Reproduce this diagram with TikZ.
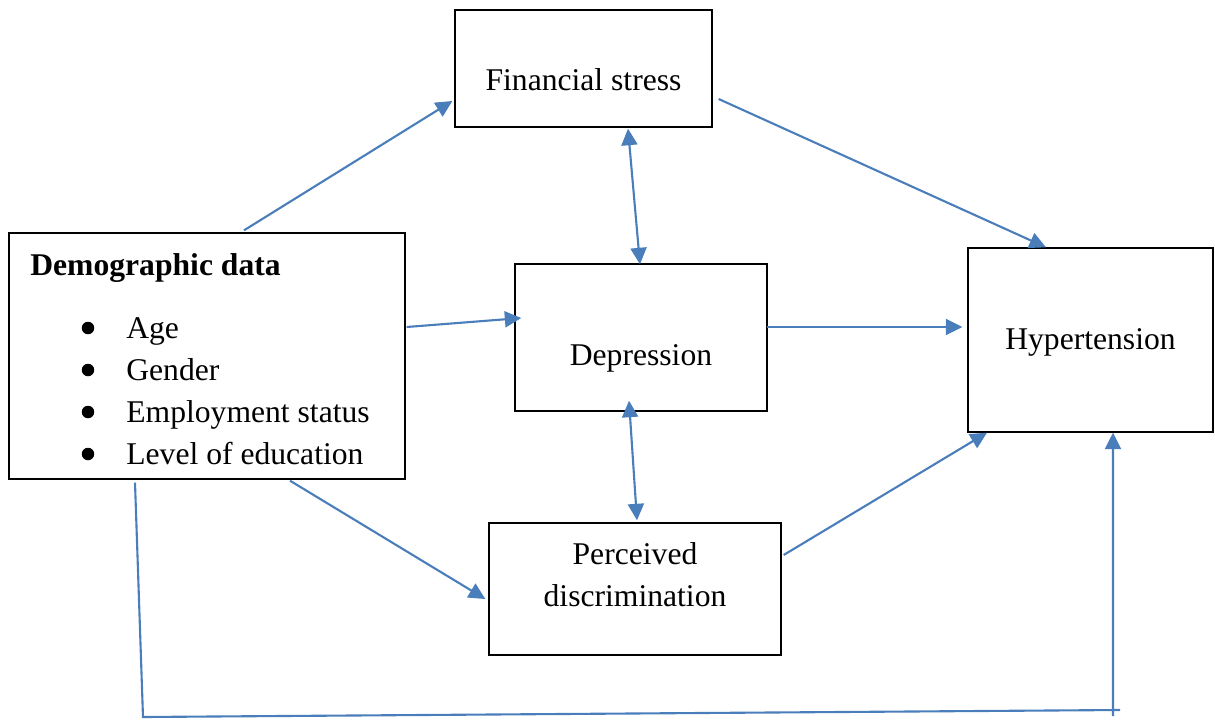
\documentclass[tikz,border=0pt]{standalone}
\usepackage{fontspec}
\setmainfont{Liberation Serif}
\usetikzlibrary{arrows.meta,calc}
\begin{document}
\begin{tikzpicture}[x=0.02cm,y=-0.02cm,
  box/.style={draw=black,line width=0.8pt,inner sep=0pt,fill=none},
  txt/.style={font=\fontsize{18}{24}\selectfont,inner sep=0pt,align=center},
  conn/.style={draw=arrowblue,line width=1.2pt},
  tip/.style={-{Triangle[length=0.33cm,width=0.32cm]}},
  dtip/.style={{Triangle[length=0.33cm,width=0.32cm]}-{Triangle[length=0.33cm,width=0.32cm]}}]
\definecolor{arrowblue}{HTML}{4A7EBB}
\useasboundingbox (0,0) rectangle (1215,721);
% boxes
\node[box,minimum width=5.14cm,minimum height=2.34cm] (fin) at (583.5,68.5) {};
\node[box,minimum width=7.92cm,minimum height=4.92cm] (demo) at (207,356) {};
\node[box,minimum width=5.04cm,minimum height=2.94cm] (dep) at (641,337.5) {};
\node[box,minimum width=4.90cm,minimum height=3.68cm] (hyp) at (1090.5,340) {};
\node[box,minimum width=5.84cm,minimum height=2.64cm] (perc) at (635,589) {};
% texts
\node[txt] (fint) at (583.5,80) {Financial stress};
\node[txt] (dept) at (641,358) {Depression};
\node[txt] (hypt) at (1090.5,342) {Hypertension};
\node[txt] (perct) at (635,575) {Perceived\\discrimination};
\node[txt,anchor=base west,font=\fontsize{18}{24}\selectfont\bfseries] (demot) at (30,275) {Demographic data};
\node[txt,anchor=base west] (i1) at (126,338) {Age};
\node[txt,anchor=base west] (i2) at (126,380) {Gender};
\node[txt,anchor=base west] (i3) at (126,422) {Employment status};
\node[txt,anchor=base west] (i4) at (126,464) {Level of education};
\foreach \yy in {328,370,412,454}
  \fill (88,\yy) circle (0.125cm);
% connectors
\draw[conn,tip] ($(demo.north)+(37,-2)$) -- ($(fin.west)+(-2,32.5)$);
\draw[conn,tip] ($(fin.east)+(6,30.5)$) -- ($(hyp.north)+(-44.5,0)$);
\draw[conn,dtip] ($(fin.south)+(44.5,1)$) -- ($(dep.north)+(-1,1)$);
\draw[conn,tip] ($(demo.east)+(1,-29)$) -- ($(dep.west)+(7,-19.5)$);
\draw[conn,tip] ($(dep.east)+(-1,-10.5)$) -- ($(hyp.west)+(-5,-13)$);
\draw[conn,dtip] ($(dep.south)+(-12,-11)$) -- ($(perc.north)+(2,-2)$);
\draw[conn,tip] ($(demo.south)+(83,1)$) -- ($(perc.west)+(-3,10)$);
\draw[conn,tip] ($(perc.east)+(2,-34)$) -- ($(hyp.south)+(-103.5,0)$);
\coordinate (c1) at (143,717);
\coordinate (c2) at (1120,710);
\coordinate (c3) at (1113,716);
\draw[conn] ($(demo.south)+(-72,3)$) -- (c1) -- (c2);
\draw[conn,tip] (c3) -- ($(hyp.south)+(22.5,0)$);
\end{tikzpicture}
\end{document}
